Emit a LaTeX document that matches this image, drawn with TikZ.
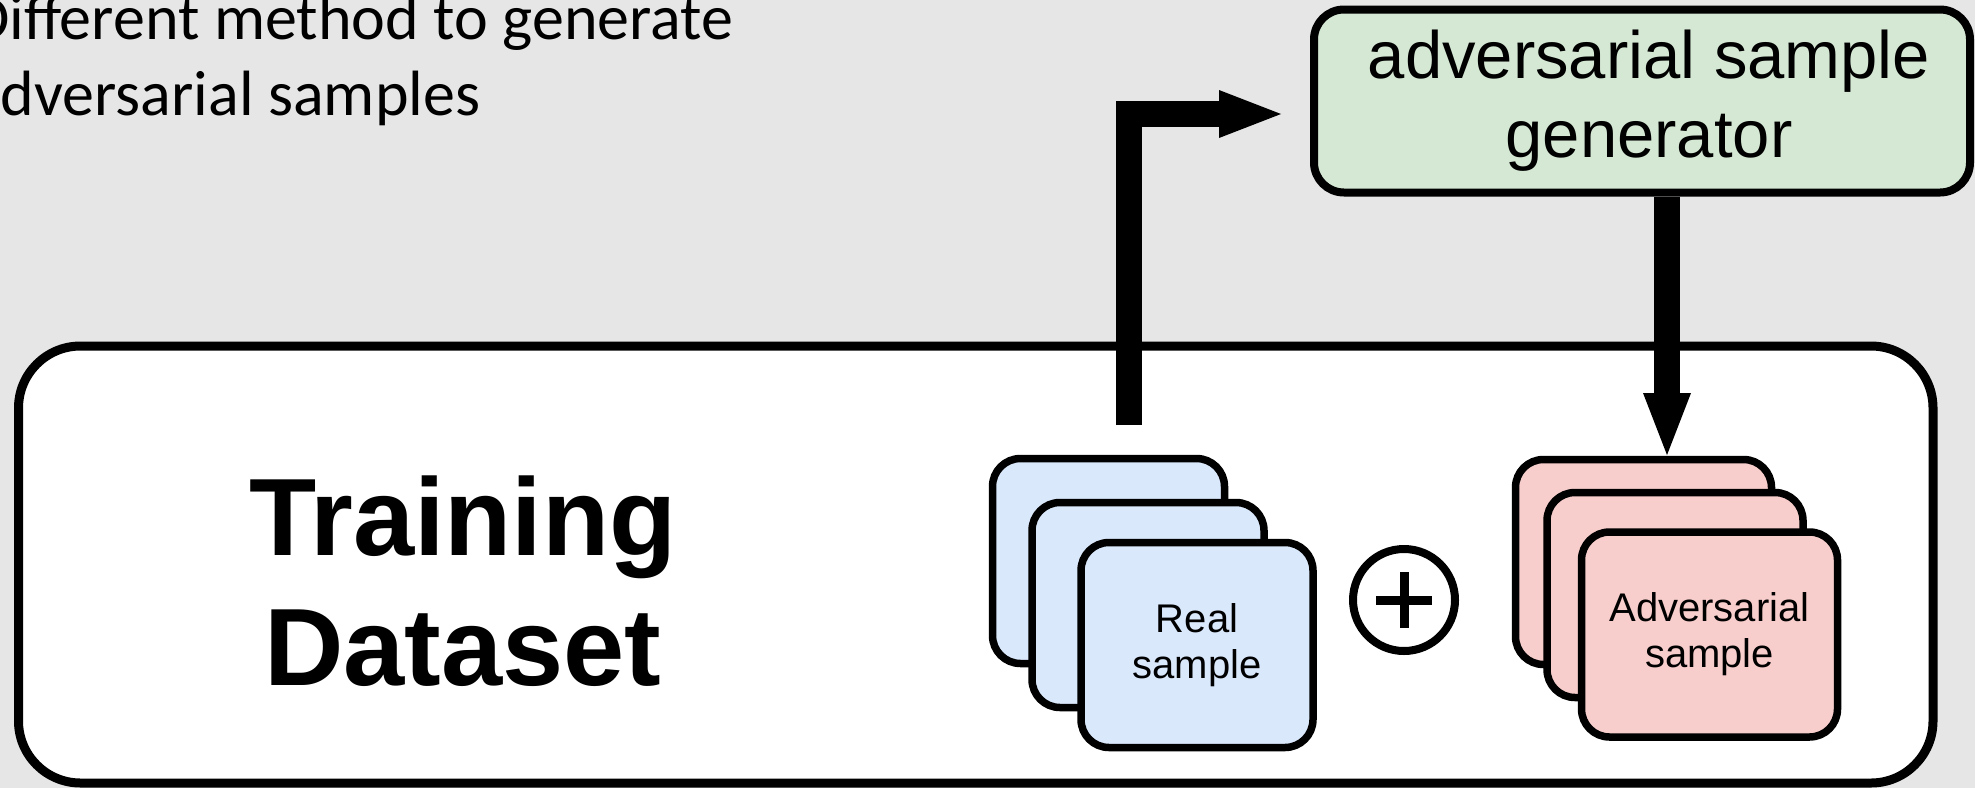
\documentclass[tikz,border=0pt]{standalone}
\usepackage{fontspec}
\setmainfont{Liberation Sans}
\newfontfamily\calibrifont{Carlito}
\usetikzlibrary{arrows.meta}
\definecolor{bg}{HTML}{E6E6E6}
\definecolor{cardblue}{HTML}{DAE8FC}
\definecolor{cardred}{HTML}{F8CECC}
\definecolor{boxgreen}{HTML}{D5E8D4}

\begin{document}
\begin{tikzpicture}[x=1pt,y=-1pt,
  card/.style={draw=black, line width=7.5pt, rounded corners=28pt,
    minimum height=205pt, inner sep=0pt, align=center,
    font=\fontsize{40}{46}\selectfont},
  realcard/.style={card, fill=cardblue, minimum width=232pt},
  advcard/.style={card, fill=cardred, minimum width=256pt},
  bigarrow/.style={line width=26pt, line join=miter,
    -{Triangle[length=62pt,width=48pt,line width=0pt]}},
]
% canvas
\useasboundingbox (0,0) rectangle (1975,788);
\clip (0,0) rectangle (1975,788);
\fill[bg] (0,0) rectangle (1975,788);

% caption in the upper left corner (anchored at the baseline of its last line)
\node[anchor=base west, align=left, inner sep=0pt,
      font=\calibrifont\fontsize{64}{76}\selectfont] (caption) at (-30,115)
  {Different method to generate\\adversarial samples};

% training dataset container
\node[draw=black, line width=9pt, fill=white, rounded corners=62pt,
      minimum width=1914.5pt, minimum height=437pt, inner sep=0pt]
  (ds) at (975.75,564.5) {};
\node[align=center, inner sep=0pt,
      font=\bfseries\fontsize{110}{130}\selectfont] (dslabel) at (463,581)
  {Training\\Dataset};

% generator
\node[draw=black, line width=8pt, fill=boxgreen, rounded corners=30pt,
      minimum width=656pt, minimum height=183pt, inner sep=0pt, align=center,
      font=\fontsize{67}{79}\selectfont] (gen) at (1642,101)
  {\hspace*{14pt}adversarial sample\\\hspace*{14pt}generator};

% stack of real samples
\node[realcard] (r1) at (1108.5,561) {};
\node[realcard] (r2) at (1148,605) {};
\node[realcard] (r3) at (1197,645) {Real\\sample};

% combine symbol
\node[draw=black, circle, line width=8pt, minimum size=102pt, inner sep=0pt] (op) at (1404,600) {};
\draw[line width=9pt] ([xshift=-28pt]op.center) -- ([xshift=28pt]op.center);
\draw[line width=9pt] ([yshift=-28pt]op.center) -- ([yshift=28pt]op.center);

% stack of adversarial samples
\node[advcard] (a1) at (1643.5,562) {};
\node[advcard] (a2) at (1675,595) {};
\node[advcard] (a3) at (1709.5,634.5) {Adversarial\\sample};

% connectors
\coordinate (rsout) at (1128.5,425);
\coordinate (genin) at (1281,114);
\coordinate (advin) at (1667,455);
\draw[bigarrow] (rsout) |- (genin);
\draw[bigarrow] ([xshift=25pt]gen.south) -- (advin);
\end{tikzpicture}
\end{document}
